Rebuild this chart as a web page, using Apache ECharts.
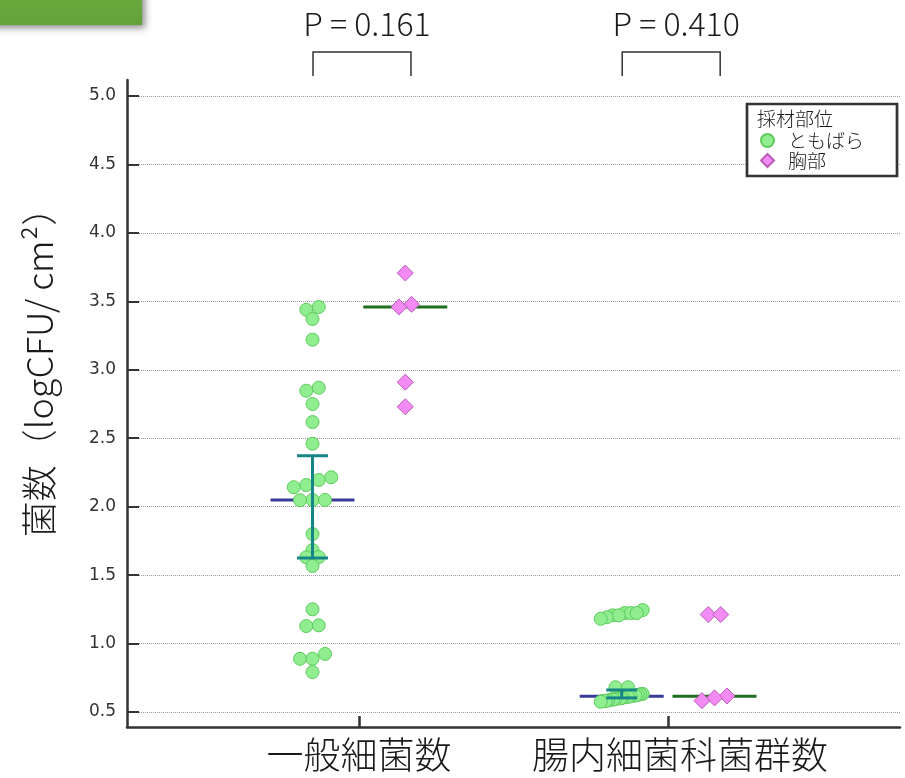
<!DOCTYPE html>
<html>
<head>
<meta charset="utf-8">
<script src="https://cdn.jsdelivr.net/npm/echarts@6/dist/echarts.min.js"></script>
<style>
  html, body { margin: 0; padding: 0; background: #fff; }
  #chart { width: 905px; height: 778px; }
</style>
</head>
<body>
<div id="chart"></div>
<script>
// ---- data ----
const categories = ['一般細菌数', '腸内細菌科菌群数'];
const siteNames = ['ともばら', '胸部'];
const legendTitle = '採材部位';
const yAxisTitle = '菌数（logCFU/ cm²）';

// individual samples, log CFU/cm²
const tomobaraGeneral = [3.459, 3.439, 3.371, 3.220, 2.869, 2.847, 2.750, 2.618, 2.460,
  2.215, 2.195, 2.158, 2.142, 2.049, 2.049, 2.047, 1.800, 1.683, 1.632, 1.630, 1.567,
  1.250, 1.133, 1.128, 0.924, 0.889, 0.889, 0.792];
const tomobaraEntero = [1.245, 1.223, 1.223, 1.223, 1.206, 1.206, 1.192, 1.181,
  0.681, 0.681, 0.632, 0.630, 0.625, 0.620, 0.620, 0.615, 0.610, 0.610, 0.605, 0.600,
  0.600, 0.595, 0.590, 0.590, 0.585, 0.580, 0.580, 0.575];
const chestGeneral = [3.707, 3.478, 3.459, 2.909, 2.730];
const chestEntero = [1.212, 1.212, 0.617, 0.603, 0.583];

// summary marks per category
const tomobaraMedian = [2.049, 0.615];
const tomobaraBarLow = [1.625, 0.603];
const tomobaraBarHigh = [2.372, 0.661];
const chestMedian = [3.459, 0.615];
const pValues = ['0.161', '0.410'];

// y axis ticks
const yTickMin = 0.5, yTickMax = 5.0, yTickStep = 0.5;

// ---- layout ----
const FONT = '"Noto Sans CJK JP", "Noto Sans", sans-serif';
const plotLeft = 127, plotRight = 900;
const axisTop = 80, axisBottom = 727;   // extent of the axis lines
const tickTop = 96, tickBottom = 712;   // pixel rows of 5.0 and 0.5
const chartW = 905, chartH = 778;
const pxPerY = (tickBottom - tickTop) / (yTickMax - yTickMin);
const yMin = yTickMin - (axisBottom - tickBottom) / pxPerY;
const yMax = yTickMax + (tickTop - axisTop) / pxPerY;
const xMin = 0.25, xMax = 2.75;
const pxPerX = (plotRight - plotLeft) / (xMax - xMin);
const subOffset = 0.15;                 // site columns either side of a category

const C_DOT = '#90ee90', C_DOT_EDGE = '#5ccb5c';
const C_DIA = '#f48af4', C_DIA_EDGE = '#b85cb8';
const C_MED_DOT = '#3a3a9c', C_MED_DIA = '#1d6e1d', C_BAR = '#178686';

// Simple beeswarm: values close in height share a row, spread sideways (pixels)
function swarmOffsets(values, diam, maxSpan, joinPx) {
  const order = values.map((v, i) => i).sort((a, b) => values[b] - values[a]);
  const off = new Array(values.length).fill(0);
  let row = [];
  const flush = () => {
    const r = row.slice().sort((a, b) => values[a] - values[b]);
    const n = r.length;
    const step = n > 1 ? Math.min(diam, maxSpan / (n - 1)) : 0;
    r.forEach((k, j) => { off[k] = (j - (n - 1) / 2) * step; });
    row = [];
  };
  order.forEach(k => {
    if (row.length && (values[row[row.length - 1]] - values[k]) * pxPerY > joinPx) flush();
    row.push(k);
  });
  if (row.length) flush();
  return off;
}

function swarmPoints(values, centerX) {
  const off = swarmOffsets(values, 12.5, 42, 6);
  return values.map((v, i) => [centerX + off[i] / pxPerX, v]);
}

const tomobaraPoints = []
  .concat(swarmPoints(tomobaraGeneral, 1 - subOffset))
  .concat(swarmPoints(tomobaraEntero, 2 - subOffset));
const chestPoints = []
  .concat(swarmPoints(chestGeneral, 1 + subOffset))
  .concat(swarmPoints(chestEntero, 2 + subOffset));

const medianData = [], medianColors = [];
categories.forEach((c, g) => {
  medianData.push([g + 1 - subOffset, tomobaraMedian[g]]); medianColors.push(C_MED_DOT);
  medianData.push([g + 1 + subOffset, chestMedian[g]]); medianColors.push(C_MED_DIA);
});
const barData = categories.map((c, g) => [g + 1 - subOffset, tomobaraBarLow[g], tomobaraBarHigh[g]]);
const bracketData = categories.map((c, g) => [g + 1, yMax]);

const chart = echarts.init(document.getElementById('chart'), null, { renderer: 'canvas' });

const option = {
  backgroundColor: '#fff',
  animation: false,
  textStyle: { fontFamily: FONT },
  graphic: [{
    type: 'rect',
    shape: { x: -10, y: -10, width: 152, height: 35 },
    style: {
      fill: new echarts.graphic.LinearGradient(0, 0, 0, 1, [
        { offset: 0, color: '#6aab3f' }, { offset: 1, color: '#62a238' }
      ]),
      shadowBlur: 7, shadowOffsetX: 3, shadowOffsetY: 3, shadowColor: 'rgba(0,0,0,0.45)'
    },
    z: 10
  }],
  title: {
    text: legendTitle,
    left: 757, top: 109, padding: 0,
    textStyle: { fontSize: 19, fontWeight: 300, color: '#1a1a1a', fontFamily: FONT },
    z: 8
  },
  legend: {
    orient: 'vertical',
    left: 747, top: 104,
    data: [{ name: siteNames[0], icon: 'circle' }, { name: siteNames[1], icon: 'diamond' }],
    itemWidth: 13, itemHeight: 13, itemGap: 1,
    padding: [27, 33, 6, 13],
    borderColor: '#333', borderWidth: 2.7, backgroundColor: '#fff',
    textStyle: { fontSize: 19, fontWeight: 300, color: '#1a1a1a', fontFamily: FONT,
      padding: [0, 0, 0, 9] },
    z: 6
  },
  grid: [
    { left: plotLeft, right: chartW - plotRight, top: axisTop, bottom: chartH - axisBottom },
    { left: plotLeft, right: chartW - plotRight, top: tickTop, bottom: chartH - tickBottom }
  ],
  xAxis: [{
    gridIndex: 0, type: 'value', min: xMin, max: xMax,
    axisLine: { show: true, onZero: false, lineStyle: { color: '#333', width: 2.5 } },
    axisTick: { show: true, inside: true, length: 11, customValues: [1, 2],
      lineStyle: { color: '#333', width: 2.5 } },
    axisLabel: {
      customValues: [1, 2],
      formatter: v => {
        const i = Math.round(v) - 1;
        return i === 1 ? '{shift|' + categories[i] + '}' : (categories[i] || '');
      },
      rich: { shift: { fontSize: 37, fontWeight: 300, color: '#1a1a1a', fontFamily: FONT,
        padding: [0, 0, 0, 24] } },
      fontSize: 37, fontWeight: 300, color: '#1a1a1a', margin: 9, fontFamily: FONT
    },
    splitLine: { show: false }
  }, {
    gridIndex: 1, type: 'value', min: xMin, max: xMax, show: false
  }],
  yAxis: [{
    gridIndex: 0, type: 'value', min: yMin, max: yMax,
    axisLine: { show: true, onZero: false, lineStyle: { color: '#333', width: 2.5 } },
    axisTick: { show: false }, axisLabel: { show: false }, splitLine: { show: false },
    name: yAxisTitle, nameLocation: 'middle', nameGap: 70, nameRotate: 90,
    nameTextStyle: { fontSize: 36, fontWeight: 300, color: '#1a1a1a', fontFamily: FONT,
      padding: [0, 0, 0, 80] }
  }, {
    gridIndex: 1, type: 'value', min: yTickMin, max: yTickMax, interval: yTickStep,
    axisLine: { show: false },
    axisTick: { show: true, inside: true, length: 12, lineStyle: { color: '#333', width: 2 } },
    axisLabel: { formatter: v => v.toFixed(1), fontSize: 17, color: '#333', margin: 11,
      fontFamily: '"DejaVu Sans", sans-serif' },
    splitLine: { show: true, lineStyle: { type: 'dotted', color: '#9a9a9a', width: 1 } }
  }],
  series: [
    {
      type: 'custom', name: 'median', xAxisIndex: 0, yAxisIndex: 0, z: 2, clip: false,
      data: medianData,
      renderItem: (params, api) => {
        const p = api.coord([api.value(0), api.value(1)]);
        return { type: 'line', shape: { x1: p[0] - 42, y1: p[1], x2: p[0] + 42, y2: p[1] },
          style: { stroke: medianColors[params.dataIndex], lineWidth: 3 } };
      }
    },
    {
      type: 'scatter', name: siteNames[0], xAxisIndex: 0, yAxisIndex: 0, z: 3,
      symbol: 'circle', symbolSize: 13, data: tomobaraPoints,
      itemStyle: { color: C_DOT, borderColor: C_DOT_EDGE, borderWidth: 1, opacity: 1 }
    },
    {
      type: 'scatter', name: siteNames[1], xAxisIndex: 0, yAxisIndex: 0, z: 3,
      symbol: 'diamond', symbolSize: 16, data: chestPoints,
      itemStyle: { color: C_DIA, borderColor: C_DIA_EDGE, borderWidth: 1, opacity: 1 }
    },
    {
      type: 'custom', name: 'bar', xAxisIndex: 0, yAxisIndex: 0, z: 4, clip: false,
      data: barData, encode: { x: 0, y: [1, 2] },
      renderItem: (params, api) => {
        const x = api.value(0);
        const lo = api.coord([x, api.value(1)]);
        const hi = api.coord([x, api.value(2)]);
        const cap = 15.5;
        const style = { stroke: C_BAR, lineWidth: 3 };
        return { type: 'group', children: [
          { type: 'line', shape: { x1: lo[0], y1: lo[1], x2: hi[0], y2: hi[1] }, style },
          { type: 'line', shape: { x1: lo[0] - cap, y1: lo[1], x2: lo[0] + cap, y2: lo[1] }, style },
          { type: 'line', shape: { x1: hi[0] - cap, y1: hi[1], x2: hi[0] + cap, y2: hi[1] }, style }
        ] };
      }
    },
    {
      type: 'custom', name: 'pvalue', xAxisIndex: 0, yAxisIndex: 0, z: 4, clip: false,
      data: bracketData,
      renderItem: (params, api) => {
        const x = api.value(0);
        const top = api.coord([x, api.value(1)])[1];
        const l = api.coord([x - subOffset, yMax])[0] + 0.5;
        const r = api.coord([x + subOffset, yMax])[0] + 5.7;
        return { type: 'group', children: [
          { type: 'polyline',
            shape: { points: [[l, top - 4], [l, top - 28], [r, top - 28], [r, top - 4]] },
            style: { stroke: '#333', lineWidth: 1.5, fill: 'none' } },
          { type: 'text', x: (l + r) / 2 + 5, y: top - 56,
            style: { text: 'P = ' + pValues[params.dataIndex], fontSize: 32, fontWeight: 300,
              fill: '#1a1a1a', fontFamily: FONT, align: 'center', verticalAlign: 'middle' } }
        ] };
      }
    }
  ]
};

chart.setOption(option);
</script>
</body>
</html>
